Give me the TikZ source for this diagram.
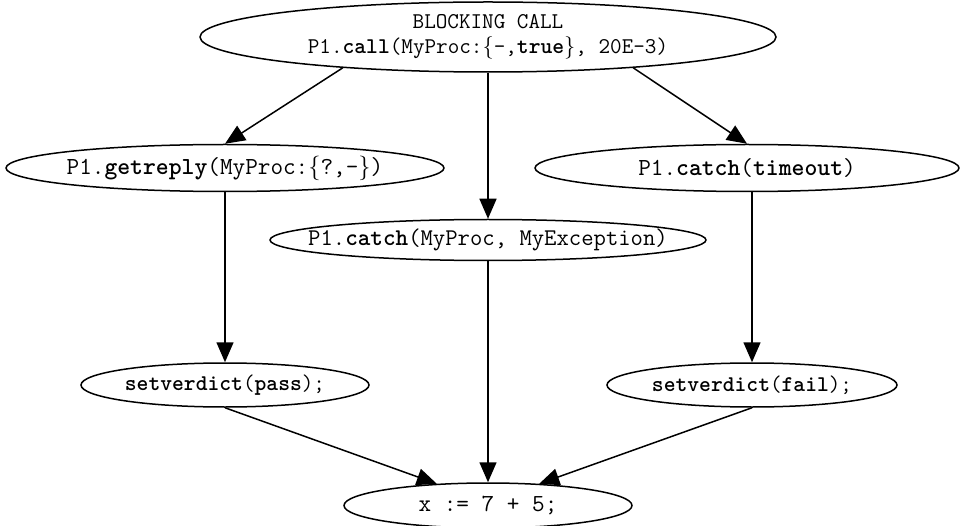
\documentclass[tikz,border=0pt]{standalone}
\usepackage{fontspec}
\usetikzlibrary{shapes.geometric,arrows.meta}
\newcommand{\lbr}{{\rmfamily\mdseries\{}}
\newcommand{\rbr}{{\rmfamily\mdseries\}}}
\tikzset{
  oval/.style={ellipse, draw, line width=1.5pt, inner xsep=-60pt, inner ysep=0pt, align=center, font=\ttfamily\fontsize{24}{25}\selectfont},
  arr/.style={line width=1.5pt, -{Triangle[length=20pt,width=17pt]}}
}
\begin{document}
\begin{tikzpicture}[x=1pt,y=-1pt]
\useasboundingbox (0,0) rectangle (960,526);
\node[oval, minimum width=576pt, minimum height=70pt, font=\ttfamily\fontsize{22.5}{25}\selectfont] (top) at (488,37)
  {BLOCKING CALL\\P1.\textbf{call}(MyProc:\lbr-,\textbf{true}\rbr, 20E-3)};
\node[oval, minimum width=438pt, minimum height=47pt, font=\ttfamily\fontsize{24.5}{25}\selectfont] (getreply) at (225,168)
  {P1.\textbf{getreply}(MyProc:\lbr?,-\rbr)};
\node[oval, minimum width=436pt, minimum height=41pt, font=\ttfamily\fontsize{24}{25}\selectfont] (catch) at (488,240)
  {P1.\textbf{catch}(MyProc, MyException)};
\node[oval, minimum width=424pt, minimum height=47pt, font=\ttfamily\fontsize{24.5}{25}\selectfont] (timeout) at (747,168)
  {P1.\textbf{catch}(\textbf{timeout})};
\node[oval, minimum width=288pt, minimum height=44pt, font=\ttfamily\fontsize{22.5}{25}\selectfont] (pass) at (225,385)
  {\textbf{setverdict}(\textbf{pass});};
\node[oval, minimum width=290pt, minimum height=44pt, font=\ttfamily\fontsize{22.5}{25}\selectfont] (fail) at (752,385)
  {\textbf{setverdict}(\textbf{fail});};
\node[oval, minimum width=288pt, minimum height=45pt, font=\ttfamily\fontsize{24.5}{25}\selectfont] (xnode) at (488,505.5)
  {x := 7 + 5;};
\draw[arr] (top.192) -- (getreply.north);
\draw[arr] (top.south) -- (catch.north);
\draw[arr] (top.348) -- (timeout.north);
\draw[arr] (getreply.south) -- (pass.north);
\draw[arr] (catch.south) -- (xnode.north);
\draw[arr] (fail.north |- timeout.south) -- (fail.north);
\draw[arr] (pass.south) -- (xnode.157);
\draw[arr] (fail.south) -- (xnode.23);
\end{tikzpicture}
\end{document}
